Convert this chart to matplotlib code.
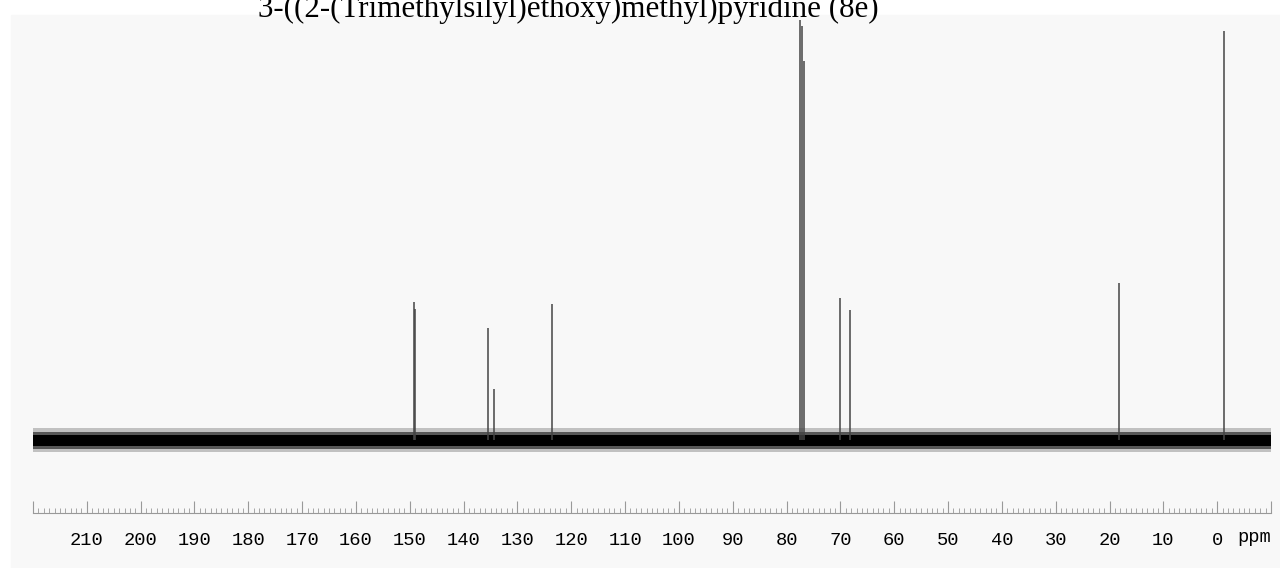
import matplotlib
matplotlib.use("Agg")
from matplotlib import pyplot as plt
from matplotlib.patches import Rectangle
from matplotlib.ticker import FixedLocator, MultipleLocator, FuncFormatter

# peak positions (ppm) and heights (baseline = 0)
peak_ppm = [149.3, 149.1, 135.4, 134.3, 123.5,
            77.48, 77.16, 76.84, 70.0, 68.3, 18.2, -1.3]
peak_height = [138, 131, 112, 51, 136,
               420, 414, 379, 142, 130, 157, 409]

major_ticks = list(range(220, -11, -10))
title = "3-((2-(Trimethylsilyl)ethoxy)methyl)pyridine (8e)"

# baseline noise drawn as stacked bands: (half-width, alpha)
noise_bands = [(12, 0.22), (8.5, 0.55), (5.5, 1.0)]

fig = plt.figure(figsize=(12.8, 5.68), dpi=100)
fig.patch.set_facecolor("white")
bg = Rectangle((11 / 1280, 0), 1, 1 - 15 / 568, transform=fig.transFigure,
               color="#f8f8f8", zorder=-5)
fig.add_artist(bg)

ax = fig.add_axes([33 / 1280, 55 / 568, 1238 / 1280, 498 / 568])
ax.set_facecolor("none")
ax.set_xlim(220, -10)
ax.set_ylim(-73, 425)

for half, a in noise_bands:
    ax.fill_between([220, -10], -half, half, color="black", alpha=a, lw=0)

ax.vlines(peak_ppm, 0, peak_height, color="#444444", lw=1.1)

for s in ["top", "left", "right"]:
    ax.spines[s].set_visible(False)
ax.spines["bottom"].set_color("#999999")
ax.set_yticks([])
ax.xaxis.set_major_locator(FixedLocator(major_ticks))
ax.xaxis.set_minor_locator(MultipleLocator(1))
ax.xaxis.set_major_formatter(FuncFormatter(
    lambda v, p: "" if v > 215 or v < -5 else f"{v:.0f}"))
ax.tick_params(axis="x", which="major", direction="in", length=9, color="#999999", pad=14)
ax.tick_params(axis="x", which="minor", direction="in", length=3.5, color="#999999")
for lbl in ax.get_xticklabels():
    lbl.set_fontfamily("Liberation Mono")
    lbl.set_fontsize(13.5)
ax.text(-6.8, -0.05, "ppm", transform=ax.get_xaxis_transform(), ha="center", va="center",
        fontfamily="Liberation Mono", fontsize=13.5, clip_on=False)

fig.text(568 / 1280, 1 - 17 / 568, title, ha="center", va="baseline",
         fontfamily="Liberation Serif", fontsize=22.3)

fig.savefig("out.png", dpi=100)
